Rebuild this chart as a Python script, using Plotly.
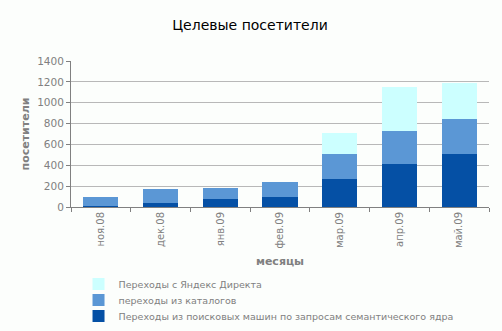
import plotly.graph_objects as go

months = ["ноя.08", "дек.08", "янв.09", "фев.09", "мар.09", "апр.09", "май.09"]
search_visits = [10, 42, 80, 99, 269, 413, 509]
catalog_visits = [89, 134, 106, 141, 240, 317, 337]
direct_visits = [0, 0, 0, 0, 202, 423, 339]

names = [
    "Переходы из поисковых машин по запросам семантического ядра",
    "переходы из каталогов",
    "Переходы с Яндекс Директа",
]
colors = ["#0550A5", "#5B97D5", "#CCFFFF"]
# one legend per series so the rows can be spaced tightly
legend_ids = ["legend", "legend2", "legend3"]
legend_rows = [-0.747, -0.637, -0.527]

fig = go.Figure()
for vals, name, col, lid in zip([search_visits, catalog_visits, direct_visits], names, colors, legend_ids):
    fig.add_trace(go.Bar(x=months, y=vals, name=name, legend=lid,
                         marker=dict(color=col, line=dict(width=0))))

gray = "#808080"
legend_style = dict(x=0.018, xanchor="left", yanchor="middle",
                    font=dict(size=9.5, color=gray), bgcolor="rgba(0,0,0,0)", itemwidth=30)
fig.update_layout(
    barmode="stack",
    bargap=0.41,
    width=502, height=331,
    margin=dict(l=71, r=13, t=61, b=124, autoexpand=False),
    paper_bgcolor="#FCFEFC", plot_bgcolor="#FCFEFC",
    font=dict(family="DejaVu Sans", size=10, color=gray),
    title=dict(text="Целевые посетители", x=0.498, xanchor="center", y=0.925, yanchor="middle",
               font=dict(family="DejaVu Sans", size=14, color="#000000")),
    legend=dict(y=legend_rows[0], **legend_style),
    legend2=dict(y=legend_rows[1], **legend_style),
    legend3=dict(y=legend_rows[2], **legend_style),
    showlegend=True,
)
fig.update_xaxes(
    type="category", tickangle=-90, showline=True, linecolor=gray, linewidth=1,
    ticks="outside", tickson="boundaries", ticklen=4, tickcolor=gray,
    tickfont=dict(size=10, color=gray), automargin=False,
    title=dict(text="<b>месяцы</b>", font=dict(size=11, color=gray), standoff=9),
)
fig.update_yaxes(
    range=[0, 1400], dtick=200, showgrid=True, gridcolor="#B8B8B8", gridwidth=1,
    showline=True, linecolor=gray, ticks="outside", ticklen=4, tickcolor=gray,
    tickfont=dict(size=10.5, color=gray), zeroline=False, automargin=False,
    title=dict(text="<b>посетители</b>", font=dict(size=11, color=gray), standoff=5),
)
fig.write_html("out.html")
